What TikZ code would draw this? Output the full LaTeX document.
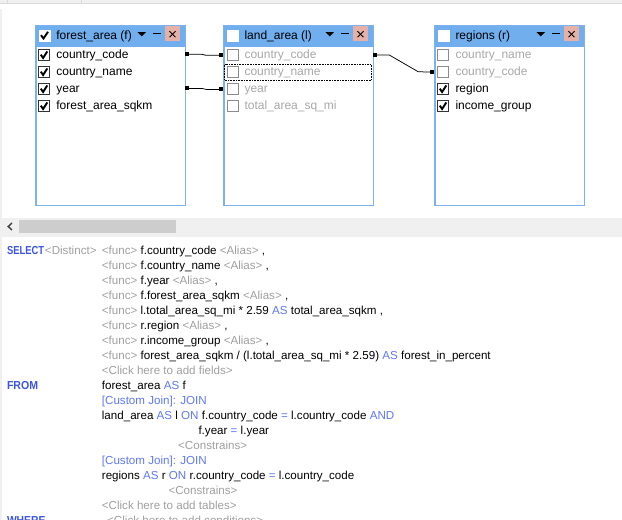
\documentclass[tikz,border=0pt]{standalone}
\usepackage{fontspec}
\usepackage{graphicx}
\setmainfont{Liberation Sans}
\usetikzlibrary{calc}
\definecolor{hdrblue}{HTML}{70AEEE}
\definecolor{bordblue}{HTML}{7DB2EC}
\definecolor{closepink}{HTML}{E6B0A6}
\definecolor{uigray}{HTML}{F0F0F0}
\definecolor{uiline}{HTML}{DADADA}
\definecolor{dimtext}{HTML}{A8A8A8}
\definecolor{sqlgray}{HTML}{A0A0A0}
\definecolor{kwbold}{HTML}{3B55E2}
\definecolor{kw}{HTML}{5F78F7}
\definecolor{thumbgray}{HTML}{CDCDCD}
\definecolor{boxdark}{HTML}{333333}
\definecolor{boxlight}{HTML}{8C8C8C}
\tikzset{
  tbl/.style={draw=bordblue, line width=1.2pt, fill=white, minimum width=149pt,
    minimum height=179pt, inner sep=0pt, anchor=north west},
  coltext/.style={anchor=base west, inner sep=0pt, font=\fontsize{12}{14}\selectfont},
  dimcol/.style={coltext, text=dimtext},
  sqltext/.style={anchor=base west, inner sep=0pt, font=\fontsize{11.6}{14}\selectfont},
  pinsq/.style={fill=black, minimum size=4pt, inner sep=0pt, draw=none},
  joinline/.style={draw=black, line width=0.75pt},
  tickmark/.style={line width=1.9pt, black},
  xmark/.style={line width=0.8pt, black},
}
% checkbox: #1 left x, #2 centre y
\newcommand\chkon[2]{%
  \draw[boxdark, line width=0.8pt, fill=white] (#1,#2-5.5) rectangle ++(11,11);
  \draw[tickmark] (#1+2.3,#2-0.3) -- (#1+4.6,#2+3) -- (#1+8.8,#2-3.6);}
\newcommand\chkoff[2]{%
  \draw[boxlight, line width=0.8pt, fill=white] (#1,#2-5.5) rectangle ++(11,11);}
% header decorations: #1 left x
\newcommand\hdrdeco[1]{%
  \fill[hdrblue] (#1,25.5) rectangle (#1+149,46.5);
  \fill[closepink] (#1+129.5,26.2) rectangle (#1+144.5,41.2);
  \draw[xmark] (#1+134,31.2) -- (#1+140,37.2);
  \draw[xmark] (#1+134,37.2) -- (#1+140,31.2);
  \fill[black] (#1+102,32) -- (#1+110.5,32) -- (#1+106.25,36.3) -- cycle;
  \draw[line width=1pt] (#1+117.8,33.6) -- (#1+125.5,33.6);
  \fill[white] (#1+3.5,29.5) rectangle ++(12,12);}
\begin{document}
\begin{tikzpicture}[x=1pt, y=-1pt]
\useasboundingbox (0,0) rectangle (622,520);
\clip (0,0) rectangle (622,520);
% window background
\fill[white] (0,0) rectangle (622,520);
\fill[uigray] (0,0) rectangle (622,3);
\draw[uiline, line width=0.8pt] (0,3.2) -- (622,3.2);
\draw[uiline, line width=0.8pt] (7,0) -- (7,3);
\draw[uiline, line width=0.8pt] (81.5,0) -- (81.5,3);
\fill[uigray] (0,9) rectangle (2,520);
% scrollbar
\fill[uigray] (0,218) rectangle (622,237);
\fill[thumbgray] (19,219.5) rectangle (176,233);
\draw[line width=1.4pt, black!75] (12,223) -- (8.2,226.5) -- (12,230);

% ---------- table forest_area ----------
\node[tbl] (forest) at (35.5,25.5) {};
\hdrdeco{35.5}
\draw[tickmark] (35.5+5.5,35.2) -- (35.5+8,38.5) -- (35.5+12.5,31.8);
\draw[bordblue, line width=1.2pt] (forest.north west) rectangle (forest.south east);
\node[coltext] (ftitle) at (56.2,39) {forest\_area (f)};
\chkon{38.5}{55}
\chkon{38.5}{72}
\chkon{38.5}{89}
\chkon{38.5}{106}
\node[coltext] (fcc) at (56.2,58.5) {country\_code};
\node[coltext] (fcn) at (56.2,75.5) {country\_name};
\node[coltext] (fyr) at (56.2,92.5) {year};
\node[coltext] (ffa) at (56.2,109.5) {forest\_area\_sqkm};

% ---------- table land_area ----------
\node[tbl] (land) at (223.5,25.5) {};
\hdrdeco{223.5}
\draw[bordblue, line width=1.2pt] (land.north west) rectangle (land.south east);
\node[coltext] (ltitle) at (244.3,39) {land\_area (l)};
\chkoff{227}{55}
\chkoff{227}{72}
\chkoff{227}{89}
\chkoff{227}{106}
\node[dimcol] (lcc) at (244.3,58.5) {country\_code};
\node[dimcol] (lcn) at (244.3,75.5) {country\_name};
\node[dimcol] (lyr) at (244.3,92.5) {year};
\node[dimcol] (lta) at (244.3,109.5) {total\_area\_sq\_mi};
\draw[black, line width=0.7pt, dash pattern=on 0.8pt off 0.8pt] (224.6,64.6) rectangle (371.4,80.4);

% ---------- table regions ----------
\node[tbl] (regions) at (434.5,25.5) {};
\hdrdeco{434.5}
\draw[bordblue, line width=1.2pt] (regions.north west) rectangle (regions.south east);
\node[coltext] (rtitle) at (455.3,39) {regions (r)};
\chkoff{437.5}{55}
\chkoff{437.5}{72}
\chkon{437.5}{89}
\chkon{437.5}{106}
\node[dimcol] (rcn) at (455.3,58.5) {country\_name};
\node[dimcol] (rcc) at (455.3,75.5) {country\_code};
\node[coltext] (rrg) at (455.3,92.5) {region};
\node[coltext] (rig) at (455.3,109.5) {income\_group};

% ---------- join connectors ----------
\node[pinsq] (p1a) at (187,54.3) {};
\node[pinsq] (p1b) at (221,55.3) {};
\node[pinsq] (p2a) at (187,88.4) {};
\node[pinsq] (p2b) at (221,89.4) {};
\node[pinsq] (p3a) at (375.3,55) {};
\node[pinsq] (p3b) at (432,72) {};
\draw[joinline] (p1a.center) -- (202,54.3) -- (206,55.3) -- (p1b.center);
\draw[joinline] (p2a.center) -- (202,88.4) -- (206,89.4) -- (p2b.center);
\draw[joinline] (p3a.center) -- (389.3,55) -- (418.3,71.8) -- (p3b.center);

% ---------- SQL text ----------
\node[sqltext, text=kwbold] (kselect) at (6.8,254) {\scalebox{0.81}[1]{\bfseries SELECT}};
\node[sqltext, text=sqlgray] (kdist) at (44.8,254) {<Distinct>};
\node[sqltext] (f1) at (101.7,254) {{\color{sqlgray}<func>} f.country\_code {\color{sqlgray}<Alias>} ,};
\node[sqltext] (f2) at (101.7,269.05) {{\color{sqlgray}<func>} f.country\_name {\color{sqlgray}<Alias>} ,};
\node[sqltext] (f3) at (101.7,284.1) {{\color{sqlgray}<func>} f.year {\color{sqlgray}<Alias>} ,};
\node[sqltext] (f4) at (101.7,299.15) {{\color{sqlgray}<func>} f.forest\_area\_sqkm {\color{sqlgray}<Alias>} ,};
\node[sqltext] (f5) at (101.7,314.2) {{\color{sqlgray}<func>} l.total\_area\_sq\_mi * 2.59 {\color{kw}AS} total\_area\_sqkm ,};
\node[sqltext] (f6) at (101.7,329.25) {{\color{sqlgray}<func>} r.region {\color{sqlgray}<Alias>} ,};
\node[sqltext] (f7) at (101.7,344.3) {{\color{sqlgray}<func>} r.income\_group {\color{sqlgray}<Alias>} ,};
\node[sqltext] (f8) at (101.7,359.35) {{\color{sqlgray}<func>} forest\_area\_sqkm / (l.total\_area\_sq\_mi * 2.59) {\color{kw}AS} forest\_in\_percent};
\node[sqltext, text=sqlgray] (f9) at (101.7,374.4) {<Click here to add fields>};
\node[sqltext, text=kwbold] (kfrom) at (6.8,389.45) {\scalebox{0.91}[1]{\bfseries FROM}};
\node[sqltext] (t1) at (101.7,389.45) {forest\_area {\color{kw}AS} f};
\node[sqltext, text=kw] (t2) at (101.7,404.5) {[Custom Join]: JOIN};
\node[sqltext] (t3) at (101.7,419.55) {land\_area {\color{kw}AS} l {\color{kw}ON} f.country\_code {\color{kw}=} l.country\_code {\color{kw}AND}};
\node[sqltext] (t4) at (198.3,434.6) {f.year {\color{kw}=} l.year};
\node[sqltext, text=sqlgray] (t5) at (178,449.65) {<Constrains>};
\node[sqltext, text=kw] (t6) at (101.7,464.7) {[Custom Join]: JOIN};
\node[sqltext] (t7) at (101.7,479.75) {regions {\color{kw}AS} r {\color{kw}ON} r.country\_code {\color{kw}=} l.country\_code};
\node[sqltext, text=sqlgray] (t8) at (168.3,494.8) {<Constrains>};
\node[sqltext, text=sqlgray] (t9) at (101.7,509.85) {<Click here to add tables>};
\node[sqltext, text=kwbold] (kwhere) at (6.8,524.2) {\scalebox{0.89}[1]{\bfseries WHERE}};
\node[sqltext, text=sqlgray] (w1) at (107,524.2) {<Click here to add conditions>};
\end{tikzpicture}
\end{document}
